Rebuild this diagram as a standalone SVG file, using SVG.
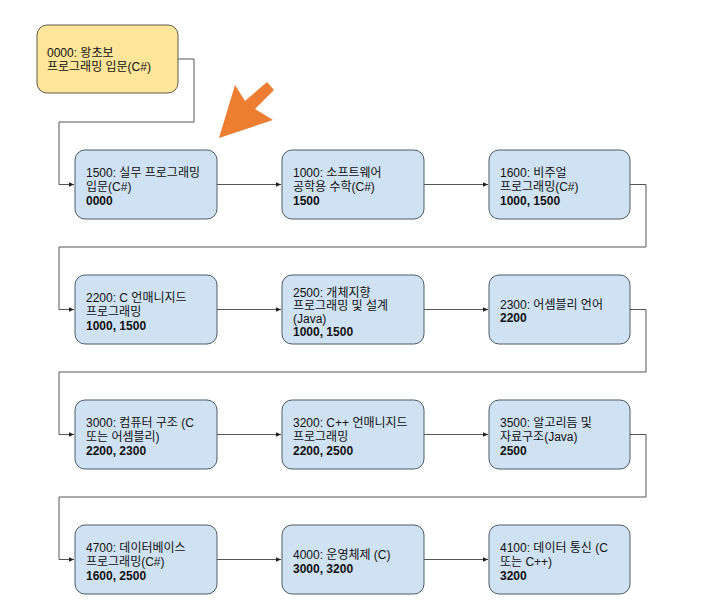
<svg xmlns="http://www.w3.org/2000/svg" width="706" height="614" viewBox="0 0 706 614">
<style>
.box{fill:#cfe2f3;stroke:#4d5a66;stroke-width:1}
.start{fill:#ffe599;stroke:#5f5a4a;stroke-width:1}
text{font-family:"Liberation Sans","Noto Sans CJK KR",sans-serif;font-size:12px;fill:#111}
.b{font-weight:bold}
.c{fill:none;stroke:#555;stroke-width:1}
</style>
<defs>
<marker id="ah" markerWidth="6" markerHeight="6" refX="5" refY="3" orient="auto" markerUnits="userSpaceOnUse">
<path d="M0,0.8 L5,3 L0,5.2 Z" fill="#222"/>
</marker>
</defs>
<rect width="706" height="614" fill="#fff"/>
<g id="connectors">
<path class="c" d="M178,59 H194 V122 H59 V184.5 H74" marker-end="url(#ah)"/>
<path class="c" d="M217,184.5 H281" marker-end="url(#ah)"/>
<path class="c" d="M424,184.5 H488" marker-end="url(#ah)"/>
<path class="c" d="M630,184.5 H646 V247 H59 V309.5 H74" marker-end="url(#ah)"/>
<path class="c" d="M217,309.5 H281" marker-end="url(#ah)"/>
<path class="c" d="M424,309.5 H488" marker-end="url(#ah)"/>
<path class="c" d="M630,309.5 H646 V372 H59 V434.5 H74" marker-end="url(#ah)"/>
<path class="c" d="M217,434.5 H281" marker-end="url(#ah)"/>
<path class="c" d="M424,434.5 H488" marker-end="url(#ah)"/>
<path class="c" d="M630,434.5 H646 V497 H59 V559.5 H74" marker-end="url(#ah)"/>
<path class="c" d="M217,559.5 H281" marker-end="url(#ah)"/>
<path class="c" d="M424,559.5 H488" marker-end="url(#ah)"/>
</g>
<g id="n0000"><rect class="start" x="37" y="25" width="141" height="68" rx="10"/>
<text x="47" y="57">0000: 왕초보</text><text x="47" y="71">프로그래밍 입문(C#)</text></g>
<g id="n1500"><rect class="box" x="75" y="150" width="142" height="69" rx="10"/>
<text x="86" y="177">1500: 실무 프로그래밍</text><text x="86" y="191">입문(C#)</text><text class="b" x="86" y="205">0000</text></g>
<g id="n1000"><rect class="box" x="282" y="150" width="142" height="69" rx="10"/>
<text x="293" y="177">1000: 소프트웨어</text><text x="293" y="191">공학용 수학(C#)</text><text class="b" x="293" y="205">1500</text></g>
<g id="n1600"><rect class="box" x="489" y="150" width="141" height="69" rx="10"/>
<text x="500" y="177">1600: 비주얼</text><text x="500" y="191">프로그래밍(C#)</text><text class="b" x="500" y="205">1000, 1500</text></g>
<g id="n2200"><rect class="box" x="75" y="275" width="142" height="69" rx="10"/>
<text x="86" y="302">2200: C 언매니지드</text><text x="86" y="316">프로그래밍</text><text class="b" x="86" y="330">1000, 1500</text></g>
<g id="n2500"><rect class="box" x="282" y="275" width="142" height="69" rx="10"/>
<text x="293" y="297">2500: 개체지향</text><text x="293" y="310">프로그래밍 및 설계</text><text x="293" y="323">(Java)</text><text class="b" x="293" y="336">1000, 1500</text></g>
<g id="n2300"><rect class="box" x="489" y="275" width="141" height="69" rx="10"/>
<text x="500" y="309">2300: 어셈블리 언어</text><text class="b" x="500" y="322">2200</text></g>
<g id="n3000"><rect class="box" x="75" y="400" width="142" height="69" rx="10"/>
<text x="86" y="427">3000: 컴퓨터 구조 (C</text><text x="86" y="441">또는 어셈블리)</text><text class="b" x="86" y="455">2200, 2300</text></g>
<g id="n3200"><rect class="box" x="282" y="400" width="142" height="69" rx="10"/>
<text x="293" y="427">3200: C++ 언매니지드</text><text x="293" y="441">프로그래밍</text><text class="b" x="293" y="455">2200, 2500</text></g>
<g id="n3500"><rect class="box" x="489" y="400" width="141" height="69" rx="10"/>
<text x="500" y="427">3500: 알고리듬 및</text><text x="500" y="441">자료구조(Java)</text><text class="b" x="500" y="455">2500</text></g>
<g id="n4700"><rect class="box" x="75" y="525" width="142" height="69" rx="10"/>
<text x="86" y="552">4700: 데이터베이스</text><text x="86" y="566">프로그래밍(C#)</text><text class="b" x="86" y="580">1600, 2500</text></g>
<g id="n4000"><rect class="box" x="282" y="525" width="142" height="69" rx="10"/>
<text x="293" y="559">4000: 운영체제 (C)</text><text class="b" x="293" y="573">3000, 3200</text></g>
<g id="n4100"><rect class="box" x="489" y="525" width="141" height="69" rx="10"/>
<text x="500" y="552">4100: 데이터 통신 (C</text><text x="500" y="566">또는 C++)</text><text class="b" x="500" y="580">3200</text></g>
<g id="pointer">
<polygon points="219,138 235,85 245,101 267,82 274,90 255,109 273,120" fill="#ed7d31"/>
</g>
</svg>
